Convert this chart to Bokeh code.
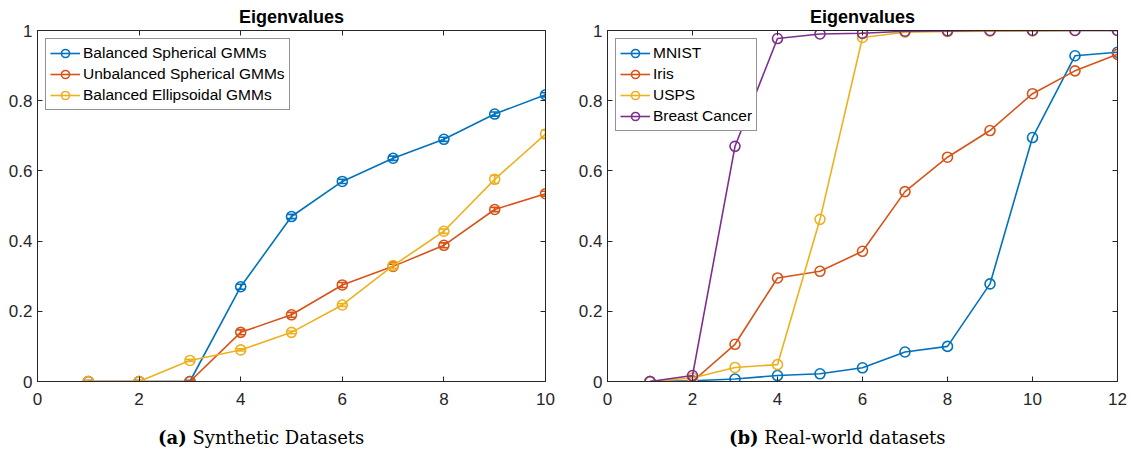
from bokeh.plotting import figure
from bokeh.models import (Range1d, FixedTicker, NumeralTickFormatter, LinearAxis, Div,
                          Legend, LegendItem, Whisker, ColumnDataSource, TeeHead,
                          CustomJSTickFormatter)
from bokeh.layouts import row, column
from bokeh.embed import file_html
from bokeh.resources import INLINE

# ---------------- data ----------------
x_syn = [1, 2, 3, 4, 5, 6, 7, 8, 9, 10]
bal_sph = [0.0, 0.0, 0.0, 0.27, 0.47, 0.57, 0.636, 0.69, 0.762, 0.817]
bal_sph_err = [0.003, 0.003, 0.003, 0.007, 0.006, 0.006, 0.006, 0.006, 0.006, 0.006]
unbal_sph = [0.0, 0.0, 0.0, 0.14, 0.19, 0.275, 0.328, 0.388, 0.49, 0.535]
unbal_sph_err = [0.003, 0.003, 0.003, 0.007, 0.007, 0.007, 0.006, 0.007, 0.006, 0.007]
bal_ell = [0.0, 0.0, 0.06, 0.09, 0.14, 0.218, 0.33, 0.428, 0.576, 0.705]
bal_ell_err = [0.002, 0.002, 0.003, 0.003, 0.004, 0.004, 0.008, 0.006, 0.011, 0.011]
syn_names = ["Balanced Spherical GMMs", "Unbalanced Spherical GMMs", "Balanced Ellipsoidal GMMs"]

x_real = [1, 2, 3, 4, 5, 6, 7, 8, 9, 10, 11, 12]
mnist = [0.0, 0.002, 0.007, 0.017, 0.022, 0.039, 0.084, 0.1, 0.278, 0.695, 0.928, 0.938]
iris = [0.0, 0.0, 0.106, 0.295, 0.314, 0.371, 0.541, 0.639, 0.715, 0.82, 0.885, 0.932]
usps = [0.0, 0.01, 0.04, 0.048, 0.462, 0.98, 0.995, 0.997, 0.998, 0.999, 1.0, 1.0]
breast = [0.0, 0.017, 0.67, 0.977, 0.99, 0.992, 0.998, 0.999, 1.0, 1.0, 1.0, 1.0]
real_names = ["MNIST", "Iris", "USPS", "Breast Cancer"]

colors = ["#0072BD", "#D95319", "#EDB120", "#7E2F8E"]
y_ticks = [0, 0.2, 0.4, 0.6, 0.8, 1.0]
AX = "#262626"
FONT = "Liberation Sans"


def style(p, xticks):
    p.outline_line_color = AX
    p.outline_line_width = 1
    p.xgrid.visible = False
    p.ygrid.visible = False
    p.xaxis.ticker = FixedTicker(ticks=xticks)
    p.yaxis.ticker = FixedTicker(ticks=y_ticks)
    p.yaxis.formatter = NumeralTickFormatter(format="0.[0]")
    for ax in p.xaxis + p.yaxis:
        ax.major_tick_in = 5
        ax.major_tick_out = 0
        ax.minor_tick_line_color = None
        ax.axis_line_color = AX
        ax.major_tick_line_color = AX
        ax.major_label_text_font = FONT
        ax.major_label_text_font_size = "17px"
        ax.major_label_text_color = AX
    p.xaxis.major_label_standoff = 11
    p.yaxis.major_label_standoff = 5
    blank = CustomJSTickFormatter(code="return ''")
    r = LinearAxis(ticker=FixedTicker(ticks=y_ticks), formatter=blank,
                   major_tick_in=5, major_tick_out=0, minor_tick_line_color=None,
                   axis_line_color=AX, major_tick_line_color=AX, major_label_standoff=0)
    t = LinearAxis(ticker=FixedTicker(ticks=xticks), formatter=blank,
                   major_tick_in=5, major_tick_out=0, minor_tick_line_color=None,
                   axis_line_color=AX, major_tick_line_color=AX, major_label_standoff=0)
    p.add_layout(r, "right")
    p.add_layout(t, "above")
    p.title.text = "Eigenvalues"
    p.title.align = "center"
    p.title.text_font = FONT
    p.title.text_font_style = "bold"
    p.title.text_font_size = "18px"
    p.title.text_color = "black"
    p.title.standoff = 7


def make_legend(items):
    return Legend(items=items, location="top_left", margin=8, padding=4, spacing=1,
                  glyph_width=30, glyph_height=20, label_height=20, label_standoff=3,
                  label_text_font=FONT, label_text_font_size="15.5px", label_text_color="black",
                  border_line_color=AX, border_line_width=1, background_fill_alpha=1)


def caption(tag, rest, width, pad):
    return Div(text="<b>%s</b>&nbsp;%s" % (tag, rest), width=width, height=24,
               margin=(7, 0, 0, 0),
               styles={"font-family": "DejaVu Serif", "font-size": "18px", "color": "black",
                       "padding-left": "%dpx" % pad})


# ---------------- left panel ----------------
p1 = figure(width=570, height=418, output_backend="svg", toolbar_location=None,
            x_range=Range1d(0, 10), y_range=Range1d(0, 1),
            min_border_left=37, min_border_right=25, min_border_top=30, min_border_bottom=37)
style(p1, [0, 2, 4, 6, 8, 10])
items1 = []
for vals, errs, c, name in zip([bal_sph, unbal_sph, bal_ell],
                               [bal_sph_err, unbal_sph_err, bal_ell_err], colors, syn_names):
    src = ColumnDataSource(dict(x=x_syn, y=vals,
                                lo=[v - e for v, e in zip(vals, errs)],
                                hi=[v + e for v, e in zip(vals, errs)]))
    ln = p1.line("x", "y", source=src, line_color=c, line_width=1.6)
    sc = p1.scatter("x", "y", source=src, marker="circle", size=10, fill_color=None,
                    line_color=c, line_width=1.6)
    p1.add_layout(Whisker(source=src, base="x", lower="lo", upper="hi", dimension="height",
                          line_color=c, line_width=1.6,
                          lower_head=TeeHead(size=9, line_color=c, line_width=1.6),
                          upper_head=TeeHead(size=9, line_color=c, line_width=1.6)))
    items1.append(LegendItem(label=name, renderers=[ln, sc]))
p1.add_layout(make_legend(items1), "center")

# ---------------- right panel ----------------
p2 = figure(width=561, height=418, output_backend="svg", toolbar_location=None,
            x_range=Range1d(0, 12), y_range=Range1d(0, 1),
            min_border_left=37, min_border_right=14, min_border_top=30, min_border_bottom=37)
style(p2, [0, 2, 4, 6, 8, 10, 12])
items2 = []
for vals, c, name in zip([mnist, iris, usps, breast], colors, real_names):
    ln = p2.line(x_real, vals, line_color=c, line_width=1.6)
    sc = p2.scatter(x_real, vals, marker="circle", size=10, fill_color=None,
                    line_color=c, line_width=1.6)
    items2.append(LegendItem(label=name, renderers=[ln, sc]))
p2.add_layout(make_legend(items2), "center")

c1 = caption("(a)", "Synthetic Datasets", 570, 158)
c2 = caption("(b)", "Real-world datasets", 561, 159)

layout = row(column(p1, c1, spacing=0), column(p2, c2, spacing=0), spacing=0)
open("out.html", "w").write(file_html(layout, INLINE))
